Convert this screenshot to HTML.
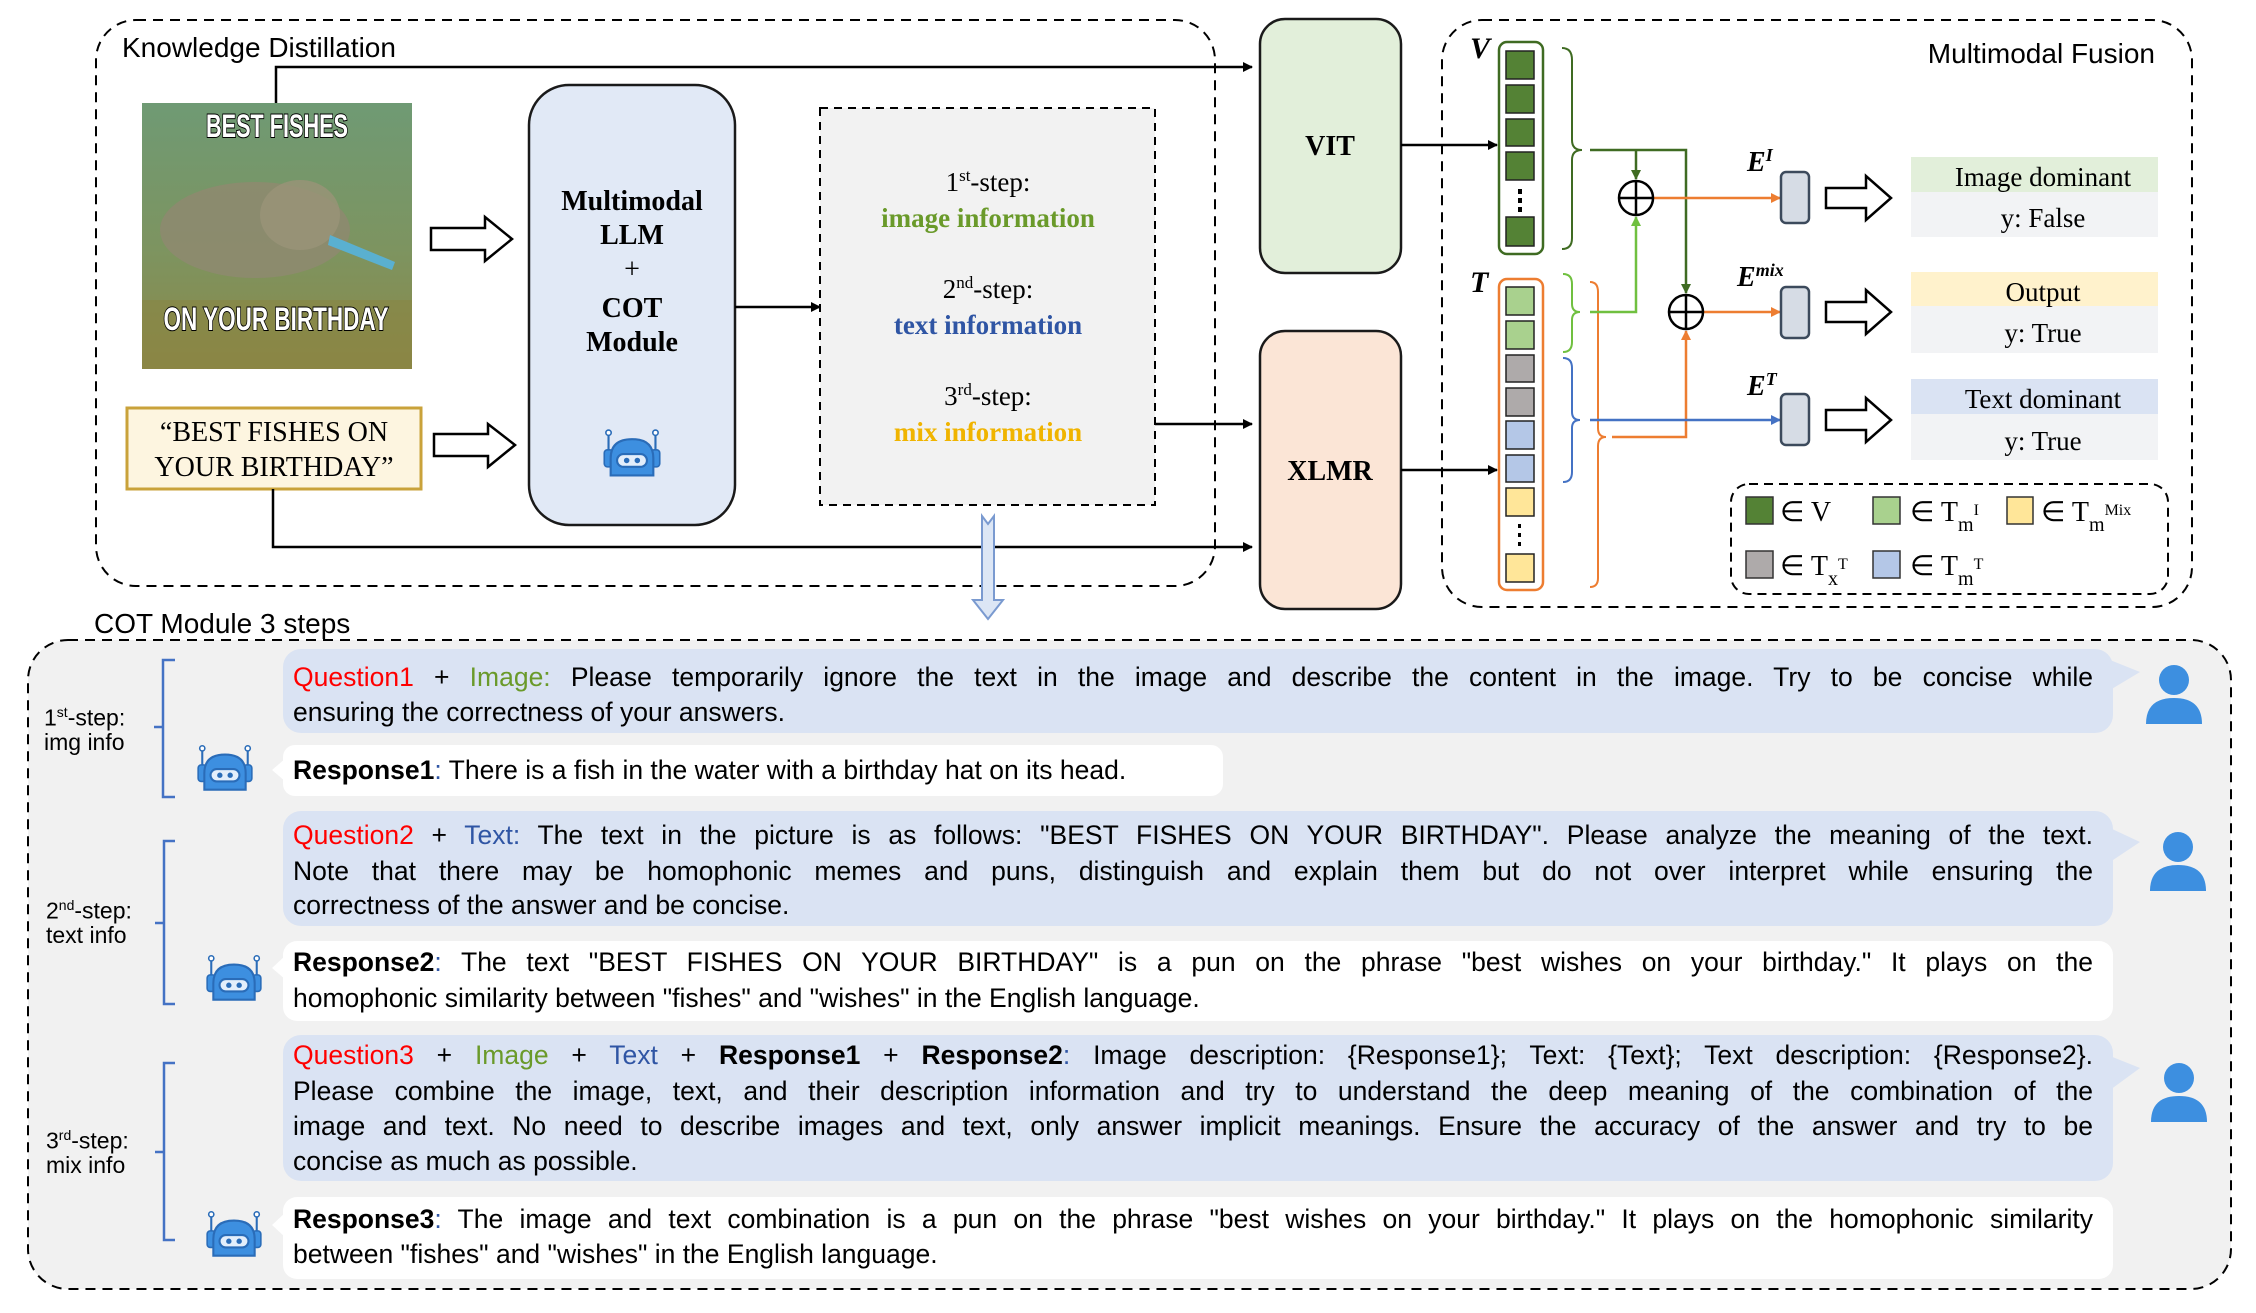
<!DOCTYPE html>
<html><head><meta charset="utf-8"><style>
body{margin:0;width:2256px;height:1313px;background:#fff;position:relative;overflow:hidden;font-family:"Liberation Sans",sans-serif}
svg{position:absolute;left:0;top:0}
.ln{position:absolute;left:293px;width:1800px;font-size:26.5px;line-height:34px;height:34px;color:#000;white-space:normal}
.j{text-align:justify;text-align-last:justify}
.r{color:#f00}.g{color:#6a9a2a}.b{color:#2f55a4}
.k{font-weight:bold}
.lab{position:absolute;font-size:23px;line-height:30px;color:#000}
</style></head><body>
<svg width="2256" height="1313" viewBox="0 0 2256 1313" xmlns="http://www.w3.org/2000/svg">
<defs>
<marker id="ab" markerWidth="10" markerHeight="10" refX="9" refY="5" orient="auto" markerUnits="userSpaceOnUse"><path d="M0,0 L10,5 L0,10 z" fill="#000"/></marker>
<marker id="ao" markerWidth="10" markerHeight="10" refX="9" refY="5" orient="auto" markerUnits="userSpaceOnUse"><path d="M0,0 L10,5 L0,10 z" fill="#ed7d31"/></marker>
<marker id="abl" markerWidth="10" markerHeight="10" refX="9" refY="5" orient="auto" markerUnits="userSpaceOnUse"><path d="M0,0 L10,5 L0,10 z" fill="#4472c4"/></marker>
<marker id="adg" markerWidth="10" markerHeight="10" refX="9" refY="5" orient="auto" markerUnits="userSpaceOnUse"><path d="M0,0 L10,5 L0,10 z" fill="#3f6b22"/></marker>
<marker id="alg" markerWidth="10" markerHeight="10" refX="9" refY="5" orient="auto" markerUnits="userSpaceOnUse"><path d="M0,0 L10,5 L0,10 z" fill="#70c040"/></marker>
<linearGradient id="mg" x1="0" y1="0" x2="0" y2="1"><stop offset="0" stop-color="#6f9a74"/><stop offset="0.55" stop-color="#7d9460"/><stop offset="1" stop-color="#8c8848"/></linearGradient>
<symbol id="bot" viewBox="0 0 60 46">
<line x1="8" y1="4" x2="8" y2="22" stroke="#2a6cb8" stroke-width="2"/><line x1="52" y1="4" x2="52" y2="22" stroke="#2a6cb8" stroke-width="2"/>
<circle cx="8" cy="4" r="2.5" fill="#fff" stroke="#2a6cb8" stroke-width="1.5"/><circle cx="52" cy="4" r="2.5" fill="#fff" stroke="#2a6cb8" stroke-width="1.5"/>
<rect x="4" y="20" width="8" height="16" rx="3" fill="#3d8fe0" stroke="#2a6cb8" stroke-width="1.5"/><rect x="48" y="20" width="8" height="16" rx="3" fill="#3d8fe0" stroke="#2a6cb8" stroke-width="1.5"/>
<path d="M10,44 L10,28 Q10,10 30,10 Q50,10 50,28 L50,44 Z" fill="#3d8fe0" stroke="#2a6cb8" stroke-width="2"/>
<rect x="16" y="24" width="28" height="12" rx="6" fill="#e3eefb" stroke="#2a6cb8" stroke-width="2"/>
<circle cx="25" cy="30" r="2.6" fill="#2a6cb8"/><circle cx="35" cy="30" r="2.6" fill="#2a6cb8"/>
</symbol>
<symbol id="usr" viewBox="0 0 60 64"><circle cx="30" cy="18" r="15" fill="#3d8fe0"/><path d="M2,62 Q2,36 30,36 Q58,36 58,62 Z" fill="#3d8fe0"/></symbol>
</defs>

<rect x="96" y="20" width="1119" height="566" rx="40" fill="none" stroke="#000" stroke-width="2" stroke-dasharray="10,7"/>
<text x="122" y="57" font-size="28" font-family="Liberation Sans">Knowledge Distillation</text>

<rect x="142" y="103" width="270" height="266" fill="url(#mg)"/>
<ellipse cx="255" cy="230" rx="95" ry="48" fill="#8e8a70" opacity="0.85"/>
<ellipse cx="300" cy="215" rx="40" ry="35" fill="#9a9478" opacity="0.8"/>
<path d="M330,235 L395,262 L392,270 L328,245 Z" fill="#5ab0d0"/>
<rect x="142" y="300" width="270" height="69" fill="#8a8440" opacity="0.5"/>
<text x="277" y="137" text-anchor="middle" font-size="32" font-weight="bold" fill="#fff" stroke="#000" stroke-width="2" paint-order="stroke" textLength="142" lengthAdjust="spacingAndGlyphs" font-family="Liberation Sans">BEST FISHES</text>
<text x="276" y="330" text-anchor="middle" font-size="32" font-weight="bold" fill="#fff" stroke="#000" stroke-width="2" paint-order="stroke" textLength="225" lengthAdjust="spacingAndGlyphs" font-family="Liberation Sans">ON YOUR BIRTHDAY</text>

<rect x="127" y="408" width="294" height="81" fill="#fdf5e0" stroke="#c9a23a" stroke-width="3"/>
<text x="274" y="441" text-anchor="middle" font-size="28" font-family="Liberation Serif">“BEST FISHES ON</text>
<text x="274" y="476" text-anchor="middle" font-size="28" font-family="Liberation Serif">YOUR BIRTHDAY”</text>

<path d="M431,228 L485,228 L485,217 L512,239 L485,261 L485,250 L431,250 Z" fill="#fff" stroke="#000" stroke-width="2.5"/>
<path d="M434,434 L488,434 L488,424 L515,445 L488,467 L488,456 L434,456 Z" fill="#fff" stroke="#000" stroke-width="2.5"/>

<rect x="529" y="85" width="206" height="440" rx="40" fill="#e1e9f6" stroke="#1a1a1a" stroke-width="2.5"/>
<g font-family="Liberation Serif" font-size="28" font-weight="bold" text-anchor="middle">
<text x="632" y="210">Multimodal</text><text x="632" y="244">LLM</text>
<text x="632" y="278" font-weight="normal">+</text><text x="632" y="317">COT</text><text x="632" y="351">Module</text></g>
<use href="#bot" x="600" y="428" width="64" height="50"/>

<line x1="735" y1="307" x2="820" y2="307" stroke="#000" stroke-width="2.5" marker-end="url(#ab)"/>

<rect x="820" y="108" width="335" height="397" fill="#f2f2f2" stroke="#000" stroke-width="2" stroke-dasharray="8,6"/>
<g font-family="Liberation Serif" font-size="27" text-anchor="middle">
<text x="988" y="191">1<tspan font-size="17" dy="-10">st</tspan><tspan dy="10">-step:</tspan></text>
<text x="988" y="227" font-weight="bold" fill="#6a9a2a">image information</text>
<text x="988" y="298">2<tspan font-size="17" dy="-10">nd</tspan><tspan dy="10">-step:</tspan></text>
<text x="988" y="334" font-weight="bold" fill="#2f55a4">text information</text>
<text x="988" y="405">3<tspan font-size="17" dy="-10">rd</tspan><tspan dy="10">-step:</tspan></text>
<text x="988" y="441" font-weight="bold" fill="#f0b400">mix information</text></g>

<polyline points="276,103 276,67 1252,67" fill="none" stroke="#000" stroke-width="2.5" marker-end="url(#ab)"/>
<line x1="1155" y1="424" x2="1252" y2="424" stroke="#000" stroke-width="2.5" marker-end="url(#ab)"/>
<polyline points="273,489 273,547 1252,547" fill="none" stroke="#000" stroke-width="2.5" marker-end="url(#ab)"/>
<path d="M982,516 L988,524 L994,516 L994,600 L1003,600 L988,619 L973,600 L982,600 Z" fill="#dce6f5" stroke="#7a9ad0" stroke-width="2"/>

<rect x="1260" y="19" width="141" height="254" rx="25" fill="#e2efda" stroke="#1a1a1a" stroke-width="2.5"/>
<text x="1330" y="155" text-anchor="middle" font-family="Liberation Serif" font-size="28" font-weight="bold">VIT</text>
<rect x="1260" y="331" width="141" height="278" rx="25" fill="#fbe5d6" stroke="#1a1a1a" stroke-width="2.5"/>
<text x="1330" y="480" text-anchor="middle" font-family="Liberation Serif" font-size="28" font-weight="bold">XLMR</text>
<line x1="1401" y1="145" x2="1497" y2="145" stroke="#000" stroke-width="2.5" marker-end="url(#ab)"/>
<line x1="1401" y1="470" x2="1497" y2="470" stroke="#000" stroke-width="2.5" marker-end="url(#ab)"/>

<rect x="1442" y="20" width="750" height="587" rx="40" fill="none" stroke="#000" stroke-width="2" stroke-dasharray="10,7"/>
<text x="2155" y="63" text-anchor="end" font-size="28" font-family="Liberation Sans">Multimodal Fusion</text>
<text x="1470" y="58" font-family="Liberation Serif" font-size="30" font-style="italic" font-weight="bold">V</text>
<text x="1470" y="292" font-family="Liberation Serif" font-size="30" font-style="italic" font-weight="bold">T</text>

<rect x="1499" y="42" width="44" height="212" rx="8" fill="#fff" stroke="#3f6b22" stroke-width="2.5"/>
<g fill="#548235" stroke="#222" stroke-width="1.5">
<rect x="1506" y="51" width="28" height="28"/><rect x="1506" y="85" width="28" height="28"/><rect x="1506" y="119" width="28" height="27"/><rect x="1506" y="152" width="28" height="28"/><rect x="1506" y="217" width="28" height="29"/></g>
<g fill="#000"><rect x="1518" y="189" width="4" height="5"/><rect x="1518" y="198" width="4" height="5"/><rect x="1518" y="207" width="4" height="5"/></g>

<rect x="1499" y="279" width="44" height="311" rx="8" fill="#fff" stroke="#ed7d31" stroke-width="2.5"/>
<g stroke="#222" stroke-width="1.5">
<rect x="1506" y="287" width="28" height="28" fill="#a9d18e"/><rect x="1506" y="321" width="28" height="28" fill="#a9d18e"/>
<rect x="1506" y="355" width="28" height="27" fill="#aeaaaa"/><rect x="1506" y="388" width="28" height="28" fill="#aeaaaa"/>
<rect x="1506" y="421" width="28" height="28" fill="#b4c7e7"/><rect x="1506" y="455" width="28" height="27" fill="#b4c7e7"/>
<rect x="1506" y="488" width="28" height="28" fill="#ffe699"/><rect x="1506" y="554" width="28" height="28" fill="#ffe699"/></g>
<g fill="#000"><rect x="1518" y="524" width="3" height="4"/><rect x="1518" y="533" width="3" height="4"/><rect x="1518" y="542" width="3" height="4"/></g>

<path d="M1562,48 Q1572,48 1572,60 L1572,140 Q1572,150 1582,150 Q1572,150 1572,160 L1572,238 Q1572,249 1562,249" fill="none" stroke="#3f6b22" stroke-width="2"/>
<path d="M1563,274 Q1572,274 1572,284 L1572,304 Q1572,312 1580,312 Q1572,312 1572,320 L1572,342 Q1572,352 1563,352" fill="none" stroke="#70c040" stroke-width="2"/>
<path d="M1563,358 Q1572,358 1572,368 L1572,412 Q1572,420 1580,420 Q1572,420 1572,428 L1572,472 Q1572,482 1563,482" fill="none" stroke="#4472c4" stroke-width="2"/>
<path d="M1590,282 Q1598,282 1598,292 L1598,428 Q1598,437 1606,437 Q1598,437 1598,446 L1598,578 Q1598,587 1590,587" fill="none" stroke="#ed7d31" stroke-width="2"/>

<polyline points="1590,150 1686,150 1686,293" fill="none" stroke="#3f6b22" stroke-width="2.5" marker-end="url(#adg)"/>
<line x1="1636" y1="150" x2="1636" y2="179" stroke="#3f6b22" stroke-width="2.5" marker-end="url(#adg)"/>
<polyline points="1590,312 1636,312 1636,217" fill="none" stroke="#70c040" stroke-width="2.5" marker-end="url(#alg)"/>
<polyline points="1612,437 1686,437 1686,331" fill="none" stroke="#ed7d31" stroke-width="2.5" marker-end="url(#ao)"/>
<line x1="1590" y1="420" x2="1780" y2="420" stroke="#4472c4" stroke-width="2.5" marker-end="url(#abl)"/>
<line x1="1654" y1="198" x2="1780" y2="198" stroke="#ed7d31" stroke-width="2.5" marker-end="url(#ao)"/>
<line x1="1704" y1="312" x2="1780" y2="312" stroke="#ed7d31" stroke-width="2.5" marker-end="url(#ao)"/>
<g fill="#fff" stroke="#000" stroke-width="2.5">
<circle cx="1636" cy="198" r="17"/><circle cx="1686" cy="312" r="17"/></g>
<g stroke="#000" stroke-width="2.5"><line x1="1619" y1="198" x2="1653" y2="198"/><line x1="1636" y1="181" x2="1636" y2="215"/>
<line x1="1669" y1="312" x2="1703" y2="312"/><line x1="1686" y1="295" x2="1686" y2="329"/></g>

<g fill="#d6dce5" stroke="#3c4a5c" stroke-width="2.5">
<rect x="1781" y="172" width="28" height="51" rx="5"/><rect x="1781" y="287" width="28" height="51" rx="5"/><rect x="1781" y="394" width="28" height="51" rx="5"/></g>
<g font-family="Liberation Serif" font-style="italic" font-weight="bold" font-size="28">
<text x="1747" y="171">E<tspan font-size="18" dy="-10">I</tspan></text>
<text x="1737" y="286">E<tspan font-size="18" dy="-10">mix</tspan></text>
<text x="1747" y="395">E<tspan font-size="18" dy="-10">T</tspan></text></g>

<g fill="#fff" stroke="#000" stroke-width="2.5">
<path d="M1826,188 L1866,188 L1866,176 L1891,198 L1866,220 L1866,208 L1826,208 Z"/>
<path d="M1826,302 L1866,302 L1866,290 L1891,312 L1866,334 L1866,322 L1826,322 Z"/>
<path d="M1826,410 L1866,410 L1866,398 L1891,420 L1866,442 L1866,430 L1826,430 Z"/></g>

<rect x="1911" y="157" width="247" height="35" fill="#e2efda"/><rect x="1911" y="192" width="247" height="45" fill="#f2f3f5"/>
<rect x="1911" y="272" width="247" height="34" fill="#fff2cc"/><rect x="1911" y="306" width="247" height="47" fill="#f2f3f5"/>
<rect x="1911" y="379" width="247" height="35" fill="#dae3f3"/><rect x="1911" y="414" width="247" height="46" fill="#f2f3f5"/>
<g font-family="Liberation Serif" font-size="27" text-anchor="middle">
<text x="2043" y="186">Image dominant</text><text x="2043" y="227">y:  False</text>
<text x="2043" y="301">Output</text><text x="2043" y="342">y:   True</text>
<text x="2043" y="408">Text dominant</text><text x="2043" y="450">y:   True</text></g>

<rect x="1731" y="484" width="437" height="110" rx="18" fill="none" stroke="#000" stroke-width="2" stroke-dasharray="9,6"/>
<g stroke="#333" stroke-width="1.5">
<rect x="1746" y="497" width="27" height="27" fill="#548235"/><rect x="1873" y="497" width="27" height="27" fill="#a9d18e"/><rect x="2007" y="497" width="26" height="27" fill="#ffe699"/>
<rect x="1746" y="551" width="27" height="27" fill="#aeaaaa"/><rect x="1873" y="551" width="27" height="27" fill="#b4c7e7"/></g>
<g font-family="Liberation Serif" font-size="28">
<text x="1780" y="521">∈ V</text>
<text x="1910" y="521">∈ T<tspan font-size="20" dy="10">m</tspan><tspan font-size="16" dy="-16">I</tspan></text>
<text x="2041" y="521">∈ T<tspan font-size="20" dy="10">m</tspan><tspan font-size="16" dy="-16">Mix</tspan></text>
<text x="1780" y="575">∈ T<tspan font-size="20" dy="10">x</tspan><tspan font-size="16" dy="-16">T</tspan></text>
<text x="1910" y="575">∈ T<tspan font-size="20" dy="10">m</tspan><tspan font-size="16" dy="-16">T</tspan></text></g>

<text x="94" y="633" font-size="28" font-family="Liberation Sans">COT Module 3 steps</text>
<rect x="28" y="640" width="2203" height="649" rx="40" fill="#f1f1f1" stroke="#000" stroke-width="2" stroke-dasharray="10,7"/>

<g fill="#dae3f3">
<rect x="283" y="649" width="1830" height="84" rx="18"/><path d="M2110,660 L2140,672 L2110,690 Z"/>
<rect x="283" y="811" width="1830" height="115" rx="18"/><path d="M2110,828 L2140,842 L2110,862 Z"/>
<rect x="283" y="1035" width="1830" height="146" rx="18"/><path d="M2110,1056 L2140,1068 L2110,1090 Z"/></g>
<g fill="#fff">
<rect x="283" y="745" width="940" height="51" rx="12"/><path d="M286,758 L272,770 L286,782 Z"/>
<rect x="283" y="941" width="1830" height="80" rx="14"/><path d="M286,955 L272,968 L286,980 Z"/>
<rect x="283" y="1197" width="1830" height="82" rx="14"/><path d="M286,1212 L272,1225 L286,1238 Z"/></g>

<g fill="none" stroke="#4472c4" stroke-width="2.5">
<path d="M175,660 L163,660 L163,797 L175,797 M163,727 L154,727"/>
<path d="M175,841 L164,841 L164,1004 L175,1004 M164,923 L155,923"/>
<path d="M175,1063 L164,1063 L164,1240 L175,1240 M164,1152 L155,1152"/></g>

<use href="#bot" x="194" y="744" width="62" height="48"/>
<use href="#bot" x="203" y="954" width="62" height="48"/>
<use href="#bot" x="203" y="1210" width="62" height="48"/>
<use href="#usr" x="2144" y="662" width="60" height="64"/>
<use href="#usr" x="2148" y="829" width="60" height="64"/>
<use href="#usr" x="2149" y="1060" width="60" height="64"/>
</svg>

<div class="lab" style="left:44px;top:697px">1<sup style="font-size:14px">st</sup>-step:</div>
<div class="lab" style="left:44px;top:727px">img info</div>
<div class="lab" style="left:46px;top:890px">2<sup style="font-size:14px">nd</sup>-step:</div>
<div class="lab" style="left:46px;top:920px">text info</div>
<div class="lab" style="left:46px;top:1120px">3<sup style="font-size:14px">rd</sup>-step:</div>
<div class="lab" style="left:46px;top:1150px">mix info</div>

<div class="ln j" style="top:660px"><span class="r">Question1</span> + <span class="g">Image:</span> Please temporarily ignore the text in the image and describe the content in the image. Try to be concise while</div>
<div class="ln" style="top:695px">ensuring the correctness of your answers.</div>
<div class="ln" style="top:753px"><span class="k">Response1</span><span class="b">:</span> There is a fish in the water with a birthday hat on its head.</div>

<div class="ln j" style="top:818px"><span class="r">Question2</span> + <span class="b">Text:</span> The text in the picture is as follows: "BEST FISHES ON YOUR BIRTHDAY". Please analyze the meaning of the text.</div>
<div class="ln j" style="top:854px">Note that there may be homophonic memes and puns, distinguish and explain them but do not over interpret while ensuring the</div>
<div class="ln" style="top:888px">correctness of the answer and be concise.</div>
<div class="ln j" style="top:945px"><span class="k">Response2</span><span class="b">:</span> The text "BEST FISHES ON YOUR BIRTHDAY" is a pun on the phrase "best wishes on your birthday." It plays on the</div>
<div class="ln" style="top:981px">homophonic similarity between "fishes" and "wishes" in the English language.</div>

<div class="ln j" style="top:1038px"><span class="r">Question3</span> + <span class="g">Image</span> + <span class="b">Text</span> + <span class="k">Response1</span> + <span class="k">Response2</span><span class="b">:</span> Image description: {Response1}; Text: {Text}; Text description: {Response2}.</div>
<div class="ln j" style="top:1074px">Please combine the image, text, and their description information and try to understand the deep meaning of the combination of the</div>
<div class="ln j" style="top:1109px">image and text. No need to describe images and text, only answer implicit meanings. Ensure the accuracy of the answer and try to be</div>
<div class="ln" style="top:1144px">concise as much as possible.</div>
<div class="ln j" style="top:1202px"><span class="k">Response3</span><span class="b">:</span> The image and text combination is a pun on the phrase "best wishes on your birthday." It plays on the homophonic similarity</div>
<div class="ln" style="top:1237px">between "fishes" and "wishes" in the English language.</div>
</body></html>
